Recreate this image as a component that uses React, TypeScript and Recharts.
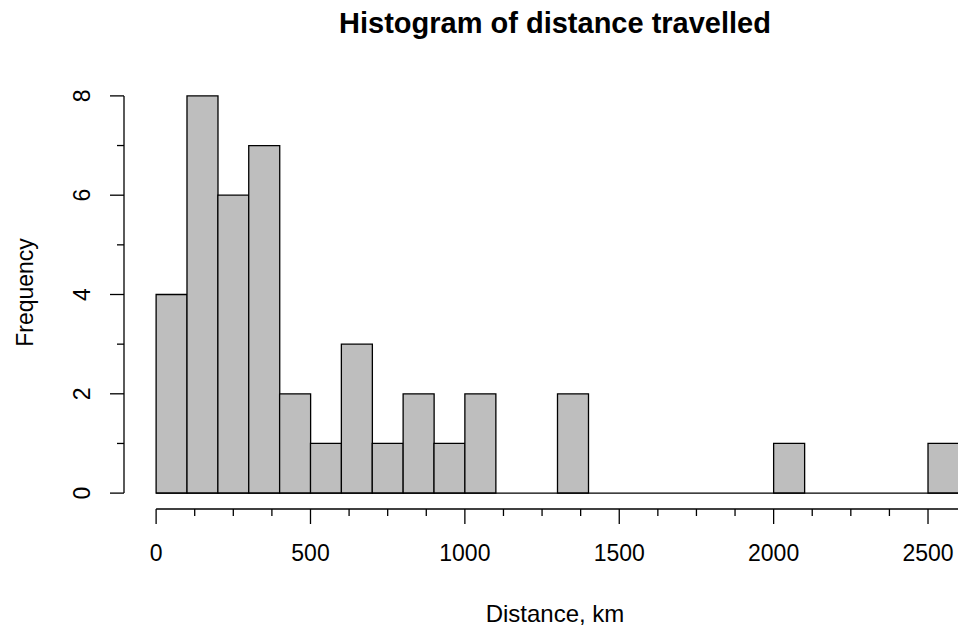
import React from 'react';
import { ComposedChart, Bar, XAxis, YAxis, ReferenceLine } from 'recharts';

const binStarts = [0, 100, 200, 300, 400, 500, 600, 700, 800, 900, 1000, 1100, 1200, 1300, 1400, 1500, 1600, 1700, 1800, 1900, 2000, 2100, 2200, 2300, 2400, 2500];
const counts = [4, 8, 6, 7, 2, 1, 3, 1, 2, 1, 2, 0, 0, 2, 0, 0, 0, 0, 0, 0, 1, 0, 0, 0, 0, 1];
const binWidth = 100;

const xTicks = [0, 125, 250, 375, 500, 625, 750, 875, 1000, 1125, 1250, 1375, 1500, 1625, 1750, 1875, 2000, 2125, 2250, 2375, 2500, 2625];
const xMajorTicks = [0, 500, 1000, 1500, 2000, 2500];
const yTicks = [0, 1, 2, 3, 4, 5, 6, 7, 8];
const yMajorTicks = [0, 2, 4, 6, 8];
const xDomain = [-104, 2704];
const yDomain = [-0.32, 8.32];
const xAxisStart = 0;
const xAxisEnd = 2625;

const title = 'Histogram of distance travelled';
const xLabel = 'Distance, km';
const yLabel = 'Frequency';

const FONT = '"Liberation Sans", Arial, sans-serif';

const data = binStarts.map((s, i) => ({ mid: s + binWidth / 2, count: counts[i] }));

const XTick = (p: any) => {
  const v = p.payload.value;
  const major = xMajorTicks.includes(v);
  return (
    <g>
      <line x1={p.x} x2={p.x} y1={p.y} y2={p.y + (major ? 15 : 7)} stroke="#000" strokeWidth={1.3} />
      {major && (
        <text x={p.x} y={p.y + 52} textAnchor="middle" fontSize={23} fontFamily={FONT} fill="#000">
          {v}
        </text>
      )}
    </g>
  );
};

const YTick = (p: any) => {
  const v = p.payload.value;
  const major = yMajorTicks.includes(v);
  return (
    <g>
      <line x1={p.x - (major ? 14 : 7)} x2={p.x} y1={p.y} y2={p.y} stroke="#000" strokeWidth={1.3} />
      {major && (
        <text
          transform={`translate(${p.x - 34.4},${p.y}) rotate(-90)`}
          textAnchor="middle"
          fontSize={23}
          fontFamily={FONT}
          fill="#000"
        >
          {v}
        </text>
      )}
    </g>
  );
};

export default function App() {
  return (
    <div
      style={{
        position: 'fixed',
        left: 8,
        top: 8,
        width: 950,
        height: 620,
        overflow: 'hidden',
        background: '#fff',
      }}
    >
      <div style={{ position: 'relative', width: 983, height: 620 }}>
        <ComposedChart
          width={983}
          height={620}
          data={data}
          margin={{ top: 72, right: 0, bottom: 118, left: 115 }}
          barCategoryGap={0}
          barGap={0}
        >
          <XAxis
            dataKey="mid"
            type="number"
            domain={xDomain}
            allowDataOverflow
            ticks={xTicks}
            interval={0}
            height={1}
            axisLine={false}
            tickLine={false}
            tickSize={0}
            tickMargin={0}
            tick={XTick}
          />
          <YAxis
            type="number"
            domain={yDomain}
            allowDataOverflow
            ticks={yTicks}
            interval={0}
            width={1}
            axisLine={false}
            tickLine={false}
            tickSize={0}
            tickMargin={0}
            tick={YTick}
          />
          <ReferenceLine
            segment={[{ x: xAxisStart, y: yDomain[0] }, { x: xAxisEnd, y: yDomain[0] }]}
            stroke="#000"
            strokeWidth={1.3}
            ifOverflow="visible"
          />
          <ReferenceLine
            segment={[{ x: xDomain[0], y: yTicks[0] }, { x: xDomain[0], y: yTicks[yTicks.length - 1] }]}
            stroke="#000"
            strokeWidth={1.3}
            ifOverflow="visible"
          />
          <ReferenceLine
            segment={[{ x: binStarts[0], y: 0 }, { x: binStarts[binStarts.length - 1] + binWidth, y: 0 }]}
            stroke="#000"
            strokeWidth={1.3}
            ifOverflow="visible"
          />
          <Bar dataKey="count" fill="#BEBEBE" stroke="#000" strokeWidth={1.3} isAnimationActive={false} />
        </ComposedChart>
        <svg
          width={983}
          height={620}
          style={{ position: 'absolute', left: 0, top: 0, pointerEvents: 'none' }}
        >
          <text x={547} y={25} textAnchor="middle" fontSize={29} fontWeight="bold" fontFamily={FONT} fill="#000">
            {title}
          </text>
          <text x={547} y={614} textAnchor="middle" fontSize={24} fontFamily={FONT} fill="#000">
            {xLabel}
          </text>
          <text
            transform="translate(25,284.5) rotate(-90)"
            textAnchor="middle"
            fontSize={23}
            fontFamily={FONT}
            fill="#000"
          >
            {yLabel}
          </text>
        </svg>
      </div>
    </div>
  );
}
